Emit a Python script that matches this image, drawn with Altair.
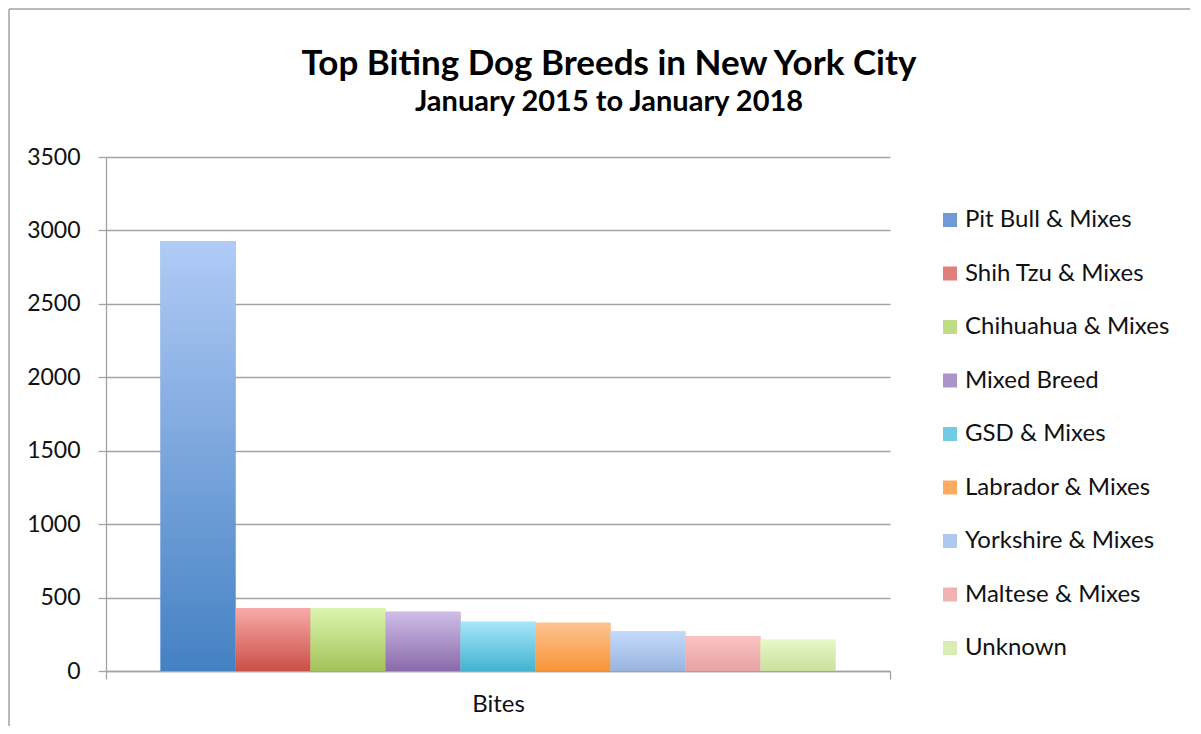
import altair as alt
import pandas as pd

breeds = ["Pit Bull & Mixes", "Shih Tzu & Mixes", "Chihuahua & Mixes", "Mixed Breed",
          "GSD & Mixes", "Labrador & Mixes", "Yorkshire & Mixes", "Maltese & Mixes", "Unknown"]
bites = [2928, 428, 428, 403, 335, 328, 272, 238, 212]
metric = ["Bites"] * len(breeds)

top_colors = ["#b1cbf6", "#f8aaa8", "#dcf5b0", "#cfbde6", "#a6e6fa", "#fec390", "#c4dafb", "#fcc2c2", "#e6f8c6"]
bottom_colors = ["#4481c3", "#ca4f47", "#a3c258", "#8a6aab", "#43b3cf", "#f79536", "#98b5df", "#e6a2a2", "#cadf9f"]
legend_colors = ["#6f9ad6", "#e07f7b", "#bedd86", "#ab94c8", "#72cbe5", "#fbac62", "#afc8ee", "#f1b2b2", "#d9ecb3"]

df = pd.DataFrame({"metric": metric, "breed": breeds, "bites": bites})

GRAY = "#a3a3a3"
FONT = "Lato"

x_enc = alt.X("metric:N", title=None,
              scale=alt.Scale(paddingInner=0, paddingOuter=0),
              axis=alt.Axis(labelAngle=0, tickBand="extent", ticks=True, tickSize=8,
                            tickColor=GRAY, domainColor=GRAY, domainWidth=1.3, tickWidth=1.3,
                            labelFontSize=24, labelPadding=13, labelColor="#111111",
                            labelFont=FONT, grid=False))
xo_enc = alt.XOffset("breed:N", scale=alt.Scale(domain=breeds, paddingInner=0, paddingOuter=0.727))
y_enc = alt.Y("bites:Q", title=None,
              scale=alt.Scale(domain=[0, 3500]),
              axis=alt.Axis(values=[0, 500, 1000, 1500, 2000, 2500, 3000, 3500], format="d",
                            tickSize=8,
                            tickColor=GRAY, domainColor=GRAY, domainWidth=1.3, tickWidth=1.3,
                            gridColor=GRAY, gridWidth=1.3, grid=True,
                            labelFontSize=23, labelPadding=18, labelColor="#111111",
                            labelFont=FONT))

base = alt.Chart(df).mark_bar().encode(
    x=x_enc, xOffset=xo_enc, y=y_enc,
    color=alt.Color("breed:N", scale=alt.Scale(domain=breeds, range=legend_colors),
                    legend=alt.Legend(title=None, orient="none", legendX=832, legendY=51,
                                      symbolType="square", symbolSize=196, symbolStrokeWidth=0,
                                      labelFontSize=24, labelFont=FONT, labelColor="#111111",
                                      labelOffset=3, rowPadding=29.5, labelLimit=300))
)

layers = [base]
for b, t, bt in zip(breeds, top_colors, bottom_colors):
    grad = alt.LinearGradient(gradient="linear", x1=0, y1=0, x2=0, y2=1,
                              stops=[alt.GradientStop(offset=0, color=t),
                                     alt.GradientStop(offset=1, color=bt)])
    layers.append(
        alt.Chart(df).transform_filter(alt.datum.breed == b)
        .mark_bar(fill=grad).encode(x=x_enc, xOffset=xo_enc, y=y_enc)
    )

frame_df = pd.DataFrame({"k": [0]})
frame_left = alt.Chart(frame_df).mark_rule(color=GRAY, strokeWidth=1.5).encode(
    x=alt.value(-97), y=alt.value(-148), y2=alt.value(700))
frame_top = alt.Chart(frame_df).mark_rule(color=GRAY, strokeWidth=1.5).encode(
    x=alt.value(-97), x2=alt.value(1200), y=alt.value(-148))

chart = alt.layer(*layers, frame_left, frame_top).properties(
    width=784, height=514,
    autosize=alt.AutoSizeParams(type="none"),
    padding={"left": 98, "top": 149, "right": 300, "bottom": 55},
    title=alt.TitleParams(
        text="Top Biting Dog Breeds in New York City",
        subtitle="January 2015 to January 2018",
        anchor="middle", frame="group", dx=111, offset=-109,
        font=FONT, fontSize=35, fontWeight="bold", color="#000000",
        subtitleFont=FONT, subtitleFontSize=29, subtitleFontWeight="bold",
        subtitleColor="#000000", subtitlePadding=6)
).configure_view(stroke=None)

chart.save("out.html", embed_options={"renderer": "svg", "actions": False})
